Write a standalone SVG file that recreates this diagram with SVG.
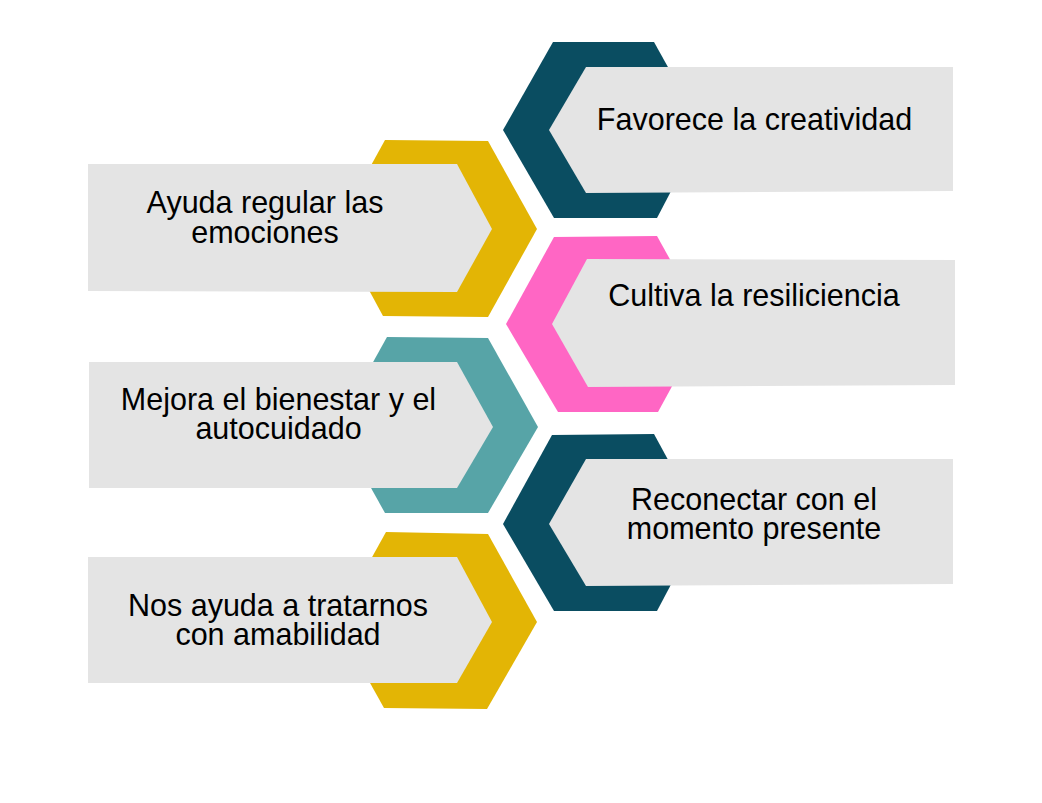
<svg xmlns="http://www.w3.org/2000/svg" width="1042" height="803" viewBox="0 0 1042 803">
<style>
.card{fill:#e4e4e4}
.yellow{fill:#e3b505}
.dark{fill:#0a4d61}
.pink{fill:#ff66c4}
.teal{fill:#57a4a7}
.t{font-family:"Liberation Sans",Arial,sans-serif;font-size:30.5px;fill:#000;text-anchor:middle}
</style>
<rect width="1042" height="803" fill="#ffffff"/>
<g id="connectors"/>
<g id="node-ayuda">
<polygon class="yellow" points="385,140 488,141 537,229 488,317 383,316 336,229"/>
<polygon class="card" points="88,164 457,164 492,229 457,292 88,291"/>
<text class="t" x="265" y="213">Ayuda regular las</text>
<text class="t" x="265" y="243">emociones</text>
</g>
<g id="node-favorece">
<polygon class="dark" points="553,42 654,42 703,130 657,218 554,218 503,130"/>
<polygon class="card" points="953,67 586,67 549,130 586,193 953,191"/>
<text class="t" x="754.5" y="130">Favorece la creatividad</text>
</g>
<g id="node-cultiva">
<polygon class="pink" points="554,237 657,236 706,324 658,412 558,412 506,324"/>
<polygon class="card" points="955,260 587,259 552,324 588,387 955,385"/>
<text class="t" x="754" y="306">Cultiva la resiliciencia</text>
</g>
<g id="node-mejora">
<polygon class="teal" points="387,337 488,338 538,427 488,513 385,513 337,427"/>
<polygon class="card" points="89,362 457,362 493,427 457,488 89,488"/>
<text class="t" x="278.5" y="410">Mejora el bienestar y el</text>
<text class="t" x="278.5" y="439">autocuidado</text>
</g>
<g id="node-reconectar">
<polygon class="dark" points="552,435 654,434 703,524 657,611 554,611 503,524"/>
<polygon class="card" points="953,459 586,459 549,524 586,586 953,584"/>
<text class="t" x="754" y="510">Reconectar con el</text>
<text class="t" x="754" y="539">momento presente</text>
</g>
<g id="node-nos">
<polygon class="yellow" points="386,532 488,534 537,622 487,709 384,708 336,622"/>
<polygon class="card" points="88,557 457,557 492,622 457,683 88,683"/>
<text class="t" x="278" y="616">Nos ayuda a tratarnos</text>
<text class="t" x="278" y="645">con amabilidad</text>
</g>
</svg>
